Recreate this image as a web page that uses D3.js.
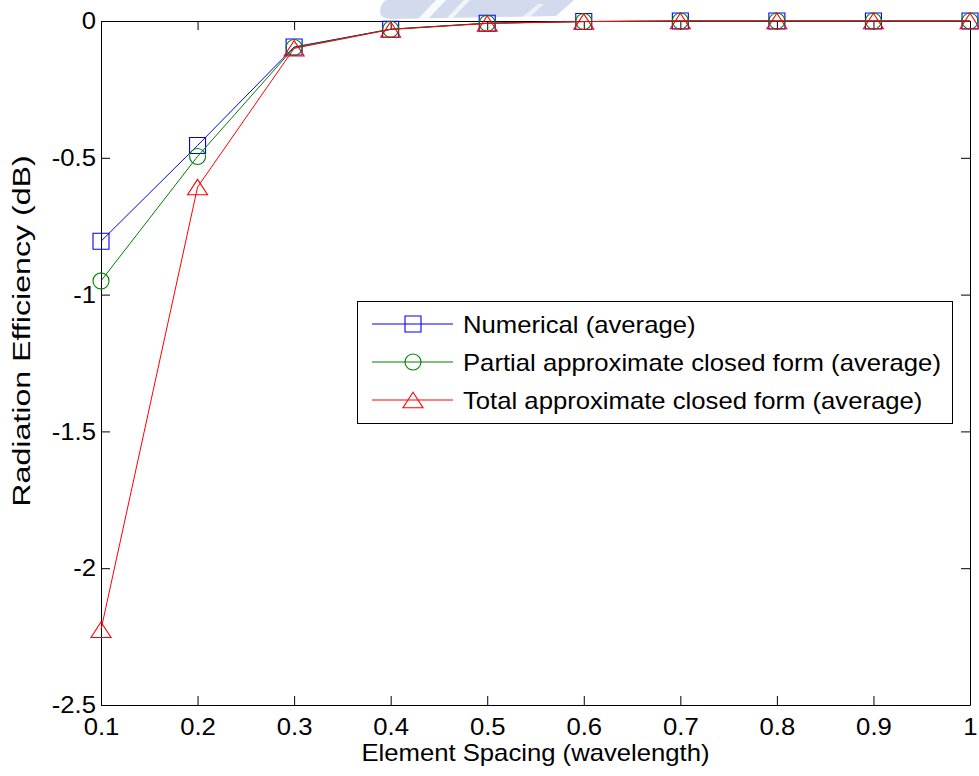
<!DOCTYPE html>
<html>
<head>
<meta charset="utf-8">
<script src="https://cdn.jsdelivr.net/npm/d3@7"></script>
<style>
  html, body { margin: 0; padding: 0; background: #fff; }
  svg { display: block; }
  text { font-family: Arial, "Liberation Sans", Helvetica, sans-serif; fill: #000; }
</style>
</head>
<body>
<svg id="chart" width="979" height="776"></svg>
<script>
// Element spacing (in wavelengths) and average radiation efficiency (dB)
const spacing   = [0.1, 0.2, 0.3, 0.4, 0.5, 0.6, 0.7, 0.8, 0.9, 1.0];
const numerical = [-0.805, -0.455, -0.095, -0.030, -0.008, -0.002, 0, 0, 0, 0];
const partial   = [-0.950, -0.495, -0.097, -0.030, -0.008, -0.002, 0, 0, 0, 0];
const total     = [-2.225, -0.607, -0.100, -0.031, -0.009, -0.002, 0, 0, 0, 0];

const seriesNames = [
  "Numerical (average)",
  "Partial approximate closed form (average)",
  "Total approximate closed form (average)"
];

const xTicks = [0.1, 0.2, 0.3, 0.4, 0.5, 0.6, 0.7, 0.8, 0.9, 1];
const xTickLabels = ["0.1", "0.2", "0.3", "0.4", "0.5", "0.6", "0.7", "0.8", "0.9", "1"];
const yTicks = [0, -0.5, -1, -1.5, -2, -2.5];
const yTickLabels = ["0", "-0.5", "-1", "-1.5", "-2", "-2.5"];

const xLabel = "Element Spacing (wavelength)";
const yLabel = "Radiation Efficiency (dB)";

const FS = 24;        // font size
const SX = 1.07;      // horizontal text stretch

const svg = d3.select("#chart");
const W = 979, H = 776;
const margin = { left: 101, right: W - 970, top: 21, bottom: H - 705 };

const x = d3.scaleLinear().domain([0.1, 1]).range([margin.left, W - margin.right]);
const y = d3.scaleLinear().domain([-2.5, 0]).range([H - margin.bottom, margin.top]);

// faint crest in the page header
const crest = svg.append("g");
crest.append("path")
  .attr("d", "M386,0 L574,0 L556,16 L392,19 Q380,19 380,12 Q380,4 386,0 Z")
  .attr("fill", "#d3daee");
crest.append("path").attr("d", "M418,19 L436,0 L446,0 L428,19 Z").attr("fill", "#ffffff").attr("opacity", 0.85);
crest.append("path").attr("d", "M446,19 L464,0 L470,0 L452,19 Z").attr("fill", "#ffffff").attr("opacity", 0.7);
crest.append("path").attr("d", "M520,19 L538,4 L544,4 L528,19 Z").attr("fill", "#ffffff").attr("opacity", 0.6);

// axes (ticks point inward on all four sides)
const tickLen = 9;
const fmtX = (d) => xTickLabels[xTicks.indexOf(d)];
const fmtY = (d) => yTickLabels[yTicks.indexOf(d)];

const gx = svg.append("g").attr("transform", `translate(0,${y(-2.5)})`)
  .call(d3.axisBottom(x).tickValues(xTicks).tickFormat(fmtX).tickSizeInner(-tickLen).tickSizeOuter(0).tickPadding(13));
const gy = svg.append("g").attr("transform", `translate(${x(0.1)},0)`)
  .call(d3.axisLeft(y).tickValues(yTicks).tickFormat(fmtY).tickSizeInner(-tickLen).tickSizeOuter(0).tickPadding(5));
const gt = svg.append("g").attr("transform", `translate(0,${y(0)})`)
  .call(d3.axisTop(x).tickValues(xTicks).tickFormat("").tickSizeInner(-tickLen).tickSizeOuter(0));
const gr = svg.append("g").attr("transform", `translate(${x(1)},0)`)
  .call(d3.axisRight(y).tickValues(yTicks).tickFormat("").tickSizeInner(-tickLen).tickSizeOuter(0));

[gx, gy, gt, gr].forEach(g => {
  g.select(".domain").attr("stroke", "#000").attr("stroke-width", 1);
  g.selectAll(".tick line").attr("stroke", "#000");
  g.selectAll("text").attr("font-size", FS).attr("font-family", null).attr("fill", "#000");
});
gx.selectAll(".tick text").attr("transform", `scale(${SX},1)`);
gy.selectAll(".tick text").attr("x", -5 / SX).attr("transform", `scale(${SX},1)`);

// axis titles
svg.append("text")
  .attr("transform", `translate(${(x(0.1) + x(1)) / 2},${H - 15}) scale(${SX},1)`)
  .attr("text-anchor", "middle").attr("font-size", FS).text(xLabel);
svg.append("text")
  .attr("transform", `translate(30,331) rotate(-90) scale(1.34,1)`)
  .attr("text-anchor", "middle").attr("font-size", FS).text(yLabel);

// series
const colors = ["#0000ff", "#008000", "#ff0000"];
const data = [numerical, partial, total];
const line = d3.line().x((d, i) => x(spacing[i])).y(d => y(d));

const markerPath = (k, cx, cy) => {
  if (k === 0) return `M${cx - 8},${cy - 8}h16v16h-16Z`;
  if (k === 1) return `M${cx - 8},${cy}a8,8 0 1,0 16,0a8,8 0 1,0 -16,0Z`;
  return `M${cx},${cy - 7.7}L${cx + 10},${cy + 7.7}L${cx - 10},${cy + 7.7}Z`;
};

data.forEach((vals, k) => {
  const g = svg.append("g");
  g.append("path").datum(vals).attr("d", line)
    .attr("fill", "none").attr("stroke", colors[k]).attr("stroke-width", 1);
  g.selectAll("path.m").data(vals).join("path").attr("class", "m")
    .attr("d", (d, i) => markerPath(k, x(spacing[i]), y(d)))
    .attr("fill", "none").attr("stroke", colors[k]).attr("stroke-width", 1.1);
});

// legend
const lg = svg.append("g");
lg.append("rect").attr("x", 357.5).attr("y", 301.5).attr("width", 595).attr("height", 122)
  .attr("fill", "#fff").attr("stroke", "#000").attr("stroke-width", 1);
seriesNames.forEach((name, k) => {
  const ry = 324 + k * 38;
  lg.append("line").attr("x1", 372).attr("x2", 453).attr("y1", ry).attr("y2", ry)
    .attr("stroke", colors[k]).attr("stroke-width", 1);
  lg.append("path").attr("d", markerPath(k, 413, ry))
    .attr("fill", "none").attr("stroke", colors[k]).attr("stroke-width", 1.1);
  lg.append("text")
    .attr("transform", `translate(463,${ry + FS * 0.36}) scale(${SX},1)`)
    .attr("font-size", FS).text(name);
});
</script>
</body>
</html>
